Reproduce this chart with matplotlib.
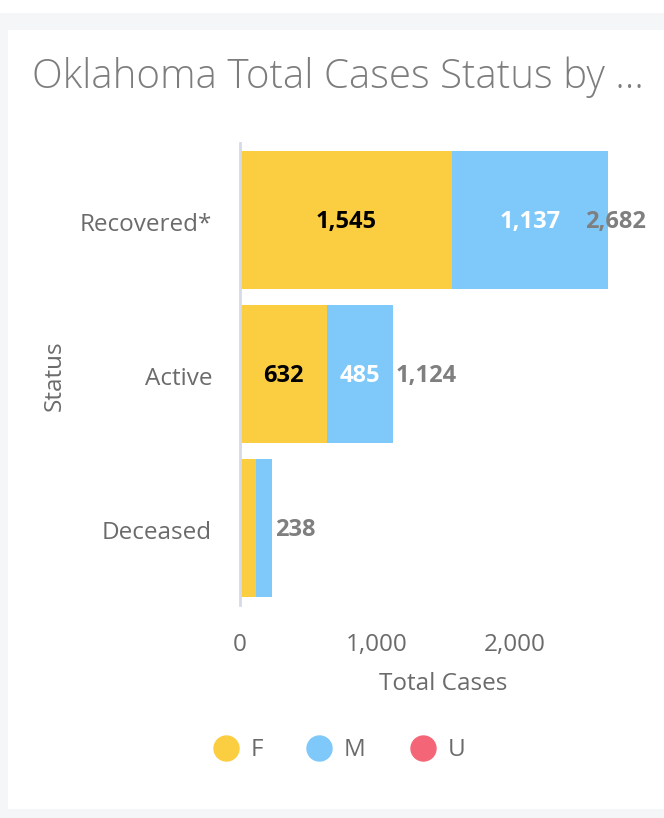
import matplotlib.pyplot as plt
from matplotlib.patches import Rectangle
from matplotlib.lines import Line2D

# data
statuses = ['Recovered*', 'Active', 'Deceased']
female = [1545, 632, 117]
male = [1137, 485, 116]
totals = [2682, 1124, 238]
show_inner = [True, True, False]

col_f = '#fbce41'
col_m = '#7ec8fa'
col_u = '#f46677'
txt_gray = '#6b6b6b'
font = 'Open Sans'
plt.rcParams['font.family'] = [font, 'DejaVu Sans']
lab_fs = 17.5
val_fs = 17

W, H = 664, 818
fig = plt.figure(figsize=(W / 100, H / 100), dpi=100, facecolor='#f5f6f8')

# white strip at top and white card (behind the axes)
fig.patches.append(Rectangle((0, 1 - 13 / H), 1, 13 / H, transform=fig.transFigure,
                             facecolor='white', edgecolor='none', zorder=-5))
fig.patches.append(Rectangle((8 / W, 1 - 809 / H), 1, (809 - 30) / H,
                             transform=fig.transFigure, facecolor='white',
                             edgecolor='none', zorder=-5))

ax = fig.add_axes([240 / W, 1 - 605 / H, (646 - 240) / W, (605 - 143) / H])
ax.set_facecolor('none')

y = list(range(len(statuses)))
h = 0.9
ax.barh(y, female, height=h, color=col_f, linewidth=0)
ax.barh(y, male, left=female, height=h, color=col_m, linewidth=0)

xmax = 2960
ax.set_xlim(0, xmax)
ax.set_ylim(2.5, -0.5)

for i in y:
    if show_inner[i]:
        ax.text(female[i] / 2, i + 0.01, f'{female[i]:,}', ha='center', va='center',
                fontsize=val_fs, fontweight='bold', color='black')
        ax.text(female[i] + male[i] / 2, i + 0.01, f'{male[i]:,}', ha='center',
                va='center', fontsize=val_fs, fontweight='bold', color='white')
    end = female[i] + male[i]
    if end + 450 > xmax:
        ax.text(xmax, i + 0.01, f'{totals[i]:,}', ha='right', va='center',
                fontsize=val_fs, fontweight='bold', color='#7f7f7f')
    else:
        ax.text(end + 20, i + 0.01, f'{totals[i]:,}', ha='left', va='center',
                fontsize=val_fs, fontweight='bold', color='#7f7f7f')

ax.set_yticks([v + 0.01 for v in y])
ax.set_yticklabels(statuses, fontsize=lab_fs, color=txt_gray)
ax.set_xticks([0, 1000, 2000])
ax.set_xticklabels(['0', '1,000', '2,000'], fontsize=lab_fs, color=txt_gray)
ax.tick_params(length=0)
ax.tick_params(axis='y', pad=20)
ax.tick_params(axis='x', pad=20)
for s in ['top', 'right', 'bottom']:
    ax.spines[s].set_visible(False)
ax.spines['left'].set_color('#d5dae6')
ax.spines['left'].set_linewidth(2)

fig.text(443 / W, 1 - 684 / H, 'Total Cases', ha='center', va='center',
         fontsize=lab_fs, color=txt_gray)
fig.text(55 / W, 1 - 376 / H, 'Status', ha='center', va='center',
         rotation=90, fontsize=lab_fs, color=txt_gray)

fig.text(32 / W, 1 - 77 / H, 'Oklahoma Total Cases Status by ...', ha='left',
         va='center', fontsize=29, fontweight='light', color='#7d7d7d')

# legend
leg = [('F', col_f, 226, 257), ('M', col_m, 319, 355), ('U', col_u, 423, 457)]
for lab, c, cx, tx in leg:
    fig.add_artist(Line2D([cx / W], [1 - 748 / H], marker='o', markersize=18,
                          color=c, linestyle='none', transform=fig.transFigure))
    fig.text(tx / W, 1 - 750 / H, lab, ha='center', va='center', fontsize=lab_fs,
             color=txt_gray)

fig.savefig('out.png', dpi=100, facecolor=fig.get_facecolor())
